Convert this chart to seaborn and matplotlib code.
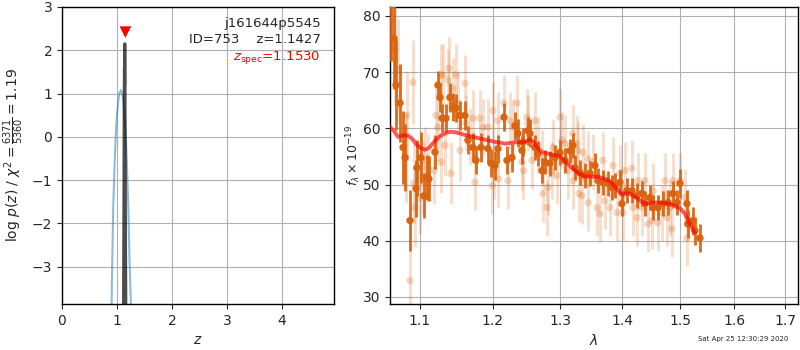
import numpy as np
import pandas as pd
import matplotlib
matplotlib.use("Agg")
import matplotlib.pyplot as plt
from matplotlib.ticker import NullLocator, FixedLocator, FixedFormatter
import seaborn as sns

# ---------------- data ----------------
# left panel: log p(z)
pz_coarse_z = [0.895, 0.910, 0.933, 0.955, 0.980, 1.000, 1.024, 1.050, 1.073, 1.095,
               1.115, 1.135, 1.158, 1.180, 1.206, 1.230, 1.255, 1.270]
pz_coarse_logp = [-4.5, -3.2, -1.6, -0.7, 0.09, 0.5, 0.85, 1.03, 1.08, 1.0,
                  0.85, 0.5, 0.09, -0.6, -1.6, -2.9, -3.9, -4.6]
pz_fine_z = [1.118, 1.126, 1.132, 1.136, 1.139, 1.1427, 1.146, 1.150, 1.156, 1.164]
pz_fine_logp = [-4.5, -1.8, 0.6, 1.6, 1.2, 2.15, 1.35, -0.4, -2.5, -4.5]
z_spec = 1.1530
z_best = 1.1427
chi2_num, chi2_den = 6371, 5360

# right panel: spectrum (wavelength in micron, flux x 1e-19)
dark_wave = [1.0630, 1.0665, 1.0690, 1.0741, 1.0780, 1.0805, 1.0870, 1.0948, 1.0961, 1.1013,
             1.1053, 1.1092, 1.1118, 1.1198, 1.1238, 1.1265, 1.1292, 1.1346, 1.1400, 1.1441,
             1.1482, 1.1537, 1.1606, 1.1647, 1.1717, 1.1759, 1.1829, 1.1928, 1.1971, 1.2029,
             1.2072, 1.2159, 1.2202, 1.2275, 1.2319, 1.2363, 1.2422, 1.2437, 1.2511, 1.2541,
             1.2616, 1.2661, 1.2722, 1.2768, 1.2844, 1.2921, 1.2998, 1.3076, 1.3154, 1.3201,
             1.3233, 1.3312, 1.3391, 1.3471, 1.3552, 1.3600, 1.3681, 1.3763, 1.3829, 1.3879,
             1.3962, 1.3995, 1.4078, 1.4163, 1.4248, 1.4333, 1.4384, 1.4470, 1.4522, 1.4609,
             1.4697, 1.4785, 1.4873, 1.4945, 1.4998, 1.5123, 1.5141, 1.5232, 1.5268, 1.5360]
dark_flux = [82.0, 76.0, 67.7, 64.5, 56.6, 54.8, 43.6, 49.3, 53.0, 54.8,
             48.0, 51.3, 51.0, 55.8, 67.7, 65.5, 61.8, 61.8, 65.5, 63.8,
             63.6, 62.3, 62.3, 57.9, 56.6, 54.3, 56.6, 56.4, 53.8, 53.4,
             56.4, 62.0, 54.3, 54.8, 60.5, 59.1, 56.1, 57.5, 59.6, 59.1,
             56.6, 55.5, 52.5, 54.0, 53.8, 54.8, 55.7, 54.3, 56.0, 57.0,
             53.0, 52.1, 51.6, 52.0, 53.4, 50.7, 50.4, 50.2, 49.5, 49.8,
             50.4, 46.6, 48.9, 48.9, 48.0, 48.4, 46.6, 47.7, 45.9, 45.9,
             46.6, 46.8, 48.4, 46.8, 50.2, 46.6, 43.0, 43.6, 41.8, 40.5]
dark_err = [10.0, 9.0, 8.0, 7.0, 6.5, 6.0, 5.5, 5.0, 5.0, 4.5,
            4.0, 4.0, 4.0, 3.0, 2.5, 2.5, 2.5, 2.5, 2.5, 2.5,
            2.5, 2.5, 2.5, 2.5, 2.5, 2.5, 2.5, 2.5, 2.5, 2.5,
            2.5, 2.5, 2.5, 2.5, 2.5, 2.5, 2.5, 2.5, 2.5, 2.5,
            2.2, 2.2, 2.2, 2.2, 2.2, 2.2, 2.2, 2.2, 2.2, 2.2,
            2.2, 2.2, 2.2, 2.2, 2.2, 2.2, 2.2, 2.2, 2.2, 2.2,
            2.2, 2.2, 2.2, 2.2, 2.2, 2.2, 2.2, 2.2, 2.2, 2.2,
            2.2, 2.2, 2.2, 2.2, 2.5, 2.5, 2.5, 2.5, 2.5, 2.5]

light_wave = [1.0640, 1.0680, 1.0715, 1.0818, 1.0831, 1.0870, 1.0909, 1.0920, 1.0935, 1.1000,
              1.1039, 1.1066, 1.1105, 1.1184, 1.1212, 1.1238, 1.1279, 1.1285, 1.1306, 1.1333,
              1.1373, 1.1387, 1.1414, 1.1441, 1.1482, 1.1509, 1.1537, 1.1606, 1.1620, 1.1675,
              1.1717, 1.1745, 1.1815, 1.1858, 1.1928, 1.1990, 1.2000, 1.2015, 1.2072, 1.2080,
              1.2159, 1.2217, 1.2246, 1.2290, 1.2348, 1.2422, 1.2445, 1.2496, 1.2511, 1.2571,
              1.2616, 1.2661, 1.2722, 1.2737, 1.2798, 1.2814, 1.2875, 1.2890, 1.2952, 1.2998,
              1.3029, 1.3076, 1.3123, 1.3195, 1.3201, 1.3265, 1.3280, 1.3296, 1.3344, 1.3360,
              1.3439, 1.3445, 1.3520, 1.3584, 1.3633, 1.3681, 1.3714, 1.3796, 1.3846, 1.3912,
              1.3962, 1.4012, 1.4045, 1.4163, 1.4180, 1.4248, 1.4265, 1.4333, 1.4384, 1.4436,
              1.4505, 1.4522, 1.4609, 1.4679, 1.4732, 1.4767, 1.4820, 1.4855, 1.4873, 1.4998,
              1.5087, 1.5123]
light_flux = [84.0, 74.0, 70.4, 54.8, 62.3, 32.9, 68.2, 50.2, 45.9, 47.7,
              51.3, 54.3, 53.0, 52.5, 62.3, 60.2, 69.5, 54.0, 69.5, 57.0,
              68.6, 70.7, 52.0, 67.1, 69.5, 64.5, 56.1, 68.0, 60.9, 58.4,
              61.8, 50.4, 61.8, 60.2, 60.2, 49.8, 63.2, 52.5, 61.4, 51.0,
              64.5, 50.7, 61.4, 60.2, 64.5, 54.0, 52.5, 62.0, 60.9, 54.3,
              61.4, 57.0, 54.8, 48.4, 45.9, 49.5, 52.5, 56.6, 51.6, 62.0,
              57.9, 57.3, 52.5, 59.1, 50.7, 57.3, 56.1, 48.4, 48.0, 55.7,
              54.6, 46.8, 54.0, 45.9, 44.8, 54.3, 47.1, 45.9, 53.4, 45.0,
              52.1, 45.0, 52.5, 52.9, 45.9, 44.1, 50.7, 45.9, 50.7, 43.0,
              43.6, 48.9, 43.2, 45.0, 50.7, 44.1, 45.9, 42.1, 50.7, 50.7,
              47.7, 40.5]
light_err = [10.0, 10.0, 9.0, 8.0, 8.0, 7.5, 7.5, 7.0, 7.0, 6.5,
             6.5, 6.0, 6.0, 6.0, 6.0, 6.0, 5.5, 5.5, 5.5, 5.5,
             5.5, 5.5, 5.5, 5.5, 5.5, 5.5, 5.5, 5.0, 5.0, 5.0,
             5.0, 5.0, 5.0, 5.0, 5.0, 5.0, 5.0, 5.0, 5.0, 5.0,
             5.0, 5.0, 5.0, 5.0, 5.0, 5.0, 5.0, 5.0, 5.0, 5.0,
             5.0, 5.0, 5.0, 5.0, 5.0, 5.0, 5.0, 5.0, 5.0, 5.0,
             5.0, 5.0, 5.0, 5.0, 5.0, 5.0, 5.0, 5.0, 5.0, 5.0,
             5.0, 5.0, 5.0, 5.0, 5.0, 5.0, 5.0, 5.0, 5.0, 5.0,
             5.0, 5.0, 5.0, 5.0, 5.0, 5.0, 5.0, 5.0, 5.0, 5.0,
             5.0, 5.0, 5.0, 5.0, 5.0, 5.0, 5.0, 5.0, 5.0, 5.0,
             5.0, 5.0]

model_wave = [1.0614, 1.0666, 1.0715, 1.0780, 1.0844, 1.0895, 1.0950, 1.1000, 1.1066, 1.1118,
              1.1180, 1.1265, 1.1333, 1.1400, 1.1480, 1.1560, 1.1640, 1.1745, 1.1886, 1.2029,
              1.2173, 1.2319, 1.2467, 1.2541, 1.2600, 1.2650, 1.2720, 1.2844, 1.2950, 1.3000,
              1.3076, 1.3154, 1.3233, 1.3312, 1.3391, 1.3471, 1.3600, 1.3714, 1.3800, 1.3880,
              1.3960, 1.4010, 1.4080, 1.4160, 1.4250, 1.4330, 1.4400, 1.4500, 1.4650, 1.4800,
              1.4900, 1.4998, 1.5087, 1.5178, 1.5260]
model_flux = [60.2, 59.5, 58.5, 58.8, 58.7, 58.2, 57.2, 56.6, 56.2, 56.5,
              57.5, 58.6, 59.1, 59.4, 59.3, 59.0, 58.7, 58.4, 58.0, 57.6,
              57.3, 57.5, 57.6, 58.0, 57.6, 56.6, 55.8, 55.4, 55.2, 55.0,
              54.2, 53.3, 52.5, 51.9, 51.5, 51.4, 51.4, 51.0, 50.6, 49.6,
              48.6, 48.2, 48.5, 48.2, 47.6, 46.9, 46.6, 46.8, 46.8, 46.6,
              46.2, 45.8, 44.8, 43.0, 41.5]

wave_ticks = [1.1, 1.2, 1.3, 1.4, 1.5, 1.6, 1.7]
timestamp = "Sat Apr 25 12:30:29 2020"

# ---------------- plotting ----------------
sns.set_style("white")
plt.rcParams["font.family"] = ["DejaVu Sans"]
plt.rcParams["axes.linewidth"] = 1.0

fig = plt.figure(figsize=(8, 3.5), dpi=100)
ax1 = fig.add_axes([0.0775, 0.1314, 0.340, 0.8486])
ax2 = fig.add_axes([0.4875, 0.1314, 0.510, 0.8486])

ORANGE = "#d9630f"

# left panel
sns.lineplot(x=pz_coarse_z, y=pz_coarse_logp, ax=ax1, color="tab:blue", alpha=0.5,
             lw=1.5, sort=False, estimator=None)
sns.lineplot(x=pz_fine_z, y=pz_fine_logp, ax=ax1, color="k", alpha=0.7,
             lw=2.2, sort=False, estimator=None)
sns.scatterplot(x=[z_spec], y=[2.42], ax=ax1, marker="v", color="red", s=70,
                edgecolor="none", zorder=5)
ax1.set_xlim(0, 4.95)
ax1.set_ylim(-3.86, 3.0)
ax1.set_xticks([0, 1, 2, 3, 4])
ax1.set_yticks([-3, -2, -1, 0, 1, 2, 3])
ax1.set_yticklabels(["\u22123", "\u22122", "\u22121", "0", "1", "2", "3"])
ax1.grid(True, color="#b0b0b0", lw=0.8)
ax1.set_xlabel("$z$", fontsize=10)
ax1.set_ylabel(r"log $p(z)$ / $\chi^2=\frac{%d}{%d}=%.2f$" % (chi2_num, chi2_den, chi2_num / chi2_den),
               fontsize=10, labelpad=4)
ax1.tick_params(axis="both", labelsize=10, direction="out", length=3.5, left=True, bottom=True)
ax1.text(0.95, 0.965, "j161644p5545\nID=753    z=%.4f" % z_best, transform=ax1.transAxes,
         ha="right", va="top", fontsize=9.5, linespacing=1.25)
ax1.text(0.95, 0.857, r"$z_\mathrm{spec}$=%.4f" % z_spec, transform=ax1.transAxes,
         ha="right", va="top", fontsize=9.5, color="red")

# right panel
ax2.errorbar(light_wave, light_flux, yerr=light_err, fmt="none", ecolor=ORANGE,
             alpha=0.2, elinewidth=2.2, zorder=1)
sns.scatterplot(x=light_wave, y=light_flux, ax=ax2, color=ORANGE, alpha=0.25, s=28,
                edgecolor="none", zorder=2)
ax2.errorbar(dark_wave, dark_flux, yerr=dark_err, fmt="none", ecolor=ORANGE,
             alpha=0.95, elinewidth=2.0, zorder=3)
sns.scatterplot(x=dark_wave, y=dark_flux, ax=ax2, color=ORANGE, s=28,
                edgecolor="none", zorder=4)
sns.lineplot(x=model_wave, y=model_flux, ax=ax2, color="red", alpha=0.65, lw=2.8,
             sort=False, estimator=None, zorder=5)

ax2.set_xscale("log")
ax2.set_xlim(1.0614, 1.7265)
ax2.set_ylim(28.75, 81.6)
ax2.xaxis.set_major_locator(FixedLocator(wave_ticks))
ax2.xaxis.set_major_formatter(FixedFormatter(["%.1f" % w for w in wave_ticks]))
ax2.xaxis.set_minor_locator(NullLocator())
ax2.set_yticks([30, 40, 50, 60, 70, 80])
ax2.grid(True, color="#b0b0b0", lw=0.8)
ax2.set_xlabel(r"$\lambda$", fontsize=10)
ax2.set_ylabel(r"$f_\lambda\times10^{-19}$", fontsize=9, labelpad=0)
ax2.tick_params(axis="both", labelsize=10, direction="out", length=3.5, left=True, bottom=True)

for ax in (ax1, ax2):
    for s in ax.spines.values():
        s.set_color("black")
        s.set_linewidth(1.0)

fig.text(0.985, 0.022, timestamp, ha="right", va="bottom", fontsize=5)

fig.savefig("out.png", dpi=100)
